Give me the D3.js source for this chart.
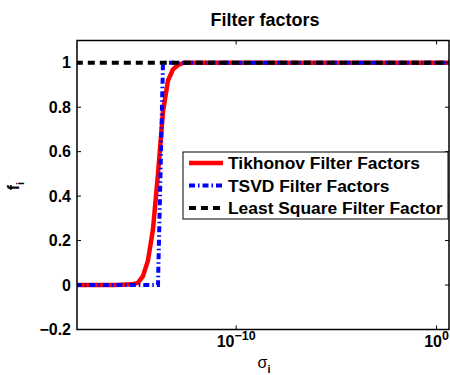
<!DOCTYPE html>
<html>
<head>
<meta charset="utf-8">
<script src="https://cdn.jsdelivr.net/npm/d3@7/dist/d3.min.js"></script>
<style>
  body { margin: 0; background: #fff; }
  text { font-family: "Liberation Sans", Arial, sans-serif; font-weight: bold; }
</style>
</head>
<body>
<div id="chart"></div>
<script>
// singular values (x) and filter factors
var sigma = [1e-18, 1e-17, 1e-16, 6.3e-16, 1.26e-15, 2.24e-15, 3.98e-15, 7.08e-15,
             1.26e-14, 2.24e-14, 3.98e-14, 7.08e-14, 1.26e-13, 2.5e-13, 1e-12,
             1e-10, 1e-8, 1e-5, 1e-2, 1, 5]
var tikhonov = [0, 0, 0, 0.003, 0.01, 0.04, 0.11, 0.25,
                0.5, 0.78, 0.92, 0.97, 0.99, 1, 1,
                1, 1, 1, 1, 1, 1]
var tsvd = [0, 0, 0, 0, 0, 0, 0, 0,
            0, 1, 1, 1, 1, 1, 1,
            1, 1, 1, 1, 1, 1]
var leastSquare = [1, 1, 1, 1, 1, 1, 1, 1,
                   1, 1, 1, 1, 1, 1, 1,
                   1, 1, 1, 1, 1, 1]

var seriesNames = ["Tikhonov Filter Factors", "TSVD Filter Factors", "Least Square Filter Factor"]
var yTicks = [-0.2, 0, 0.2, 0.4, 0.6, 0.8, 1]
var xTicks = [1e-10, 1]
var xTickExp = ["\u221210", "0"]

var W = 450, H = 375
var margin = {top: 40.5, right: 1, bottom: 45.5, left: 77}
var width = W - margin.left - margin.right,
    height = H - margin.top - margin.bottom

var svg = d3.select("#chart").append("svg")
    .attr("width", W)
    .attr("height", H)

var g = svg.append("g")
    .attr("transform", "translate(" + margin.left + "," + margin.top + ")")

var x = d3.scaleLog().domain([Math.pow(10, -17.94), Math.pow(10, 0.62)]).range([0, width])
var y = d3.scaleLinear().domain([-0.2, 1.1]).range([height, 0])

g.append("clipPath").attr("id", "clip")
  .append("rect").attr("width", width).attr("height", height)

var line = d3.line()
    .x(function(d) { return x(d[0]) })
    .y(function(d) { return y(d[1]) })

var styles = [
  {color: "#ff0000", width: 4.5, dash: null},
  {color: "#0000ff", width: 4, dash: "6,3,1.5,3"},
  {color: "#000000", width: 4, dash: "7,5"}
]
var series = [tikhonov, tsvd, leastSquare]

var plot = g.append("g").attr("clip-path", "url(#clip)")
series.forEach(function(vals, i) {
  plot.append("path")
    .datum(sigma.map(function(s, j) { return [s, vals[j]] }))
    .attr("fill", "none")
    .attr("stroke", styles[i].color)
    .attr("stroke-width", styles[i].width)
    .attr("stroke-dasharray", styles[i].dash)
    .attr("d", line)
})

// box
g.append("rect")
  .attr("width", width).attr("height", height)
  .attr("fill", "none").attr("stroke", "#000").attr("stroke-width", 1.5)

// ticks (inside, both sides)
var tl = 4
yTicks.forEach(function(t) {
  g.append("line").attr("x1", 0).attr("x2", tl).attr("y1", y(t)).attr("y2", y(t)).attr("stroke", "#000")
  g.append("line").attr("x1", width).attr("x2", width - tl).attr("y1", y(t)).attr("y2", y(t)).attr("stroke", "#000")
  g.append("text")
    .attr("x", -6).attr("y", y(t)).attr("dy", "0.36em")
    .attr("text-anchor", "end")
    .style("font-size", "16px")
    .text(t < 0 ? "\u2212" + Math.abs(t) : t)
})
xTicks.forEach(function(t, i) {
  g.append("line").attr("x1", x(t)).attr("x2", x(t)).attr("y1", height).attr("y2", height - tl).attr("stroke", "#000")
  g.append("line").attr("x1", x(t)).attr("x2", x(t)).attr("y1", 0).attr("y2", tl).attr("stroke", "#000")
  var lab = g.append("text")
    .attr("x", x(t)).attr("y", height + 17)
    .attr("text-anchor", "middle")
    .style("font-size", "16px")
  lab.append("tspan").text("10")
  lab.append("tspan").attr("dy", -7).style("font-size", "12.5px").text(xTickExp[i])
})

// title and axis labels
svg.append("text")
  .attr("x", margin.left + width / 2 + 2).attr("y", 26)
  .attr("text-anchor", "middle")
  .style("font-size", "18px")
  .text("Filter factors")

var xl = svg.append("text")
  .attr("x", 264).attr("y", 368)
  .attr("text-anchor", "middle")
  .style("font-size", "16px")
xl.append("tspan").style("font-weight", "normal").text("\u03c3")
xl.append("tspan").attr("dy", 5).style("font-size", "11px").text("i")

var yl = svg.append("text")
  .attr("transform", "translate(19,186) rotate(-90)")
  .attr("text-anchor", "middle")
  .style("font-size", "16px")
yl.append("tspan").text("f")
yl.append("tspan").attr("dy", 5).style("font-size", "11px").text("i")

// legend
var leg = svg.append("g").attr("transform", "translate(183,152)")
leg.append("rect")
  .attr("width", 265).attr("height", 67)
  .attr("fill", "#fff").attr("stroke", "#000").attr("stroke-width", 1)
seriesNames.forEach(function(name, i) {
  var cy = 11 + i * 22.5
  leg.append("line")
    .attr("x1", 6).attr("x2", 40).attr("y1", cy).attr("y2", cy)
    .attr("stroke", styles[i].color)
    .attr("stroke-width", styles[i].width)
    .attr("stroke-dasharray", styles[i].dash)
  leg.append("text")
    .attr("x", 45).attr("y", cy).attr("dy", "0.36em")
    .style("font-size", "17.4px")
    .text(name)
})
</script>
</body>
</html>
